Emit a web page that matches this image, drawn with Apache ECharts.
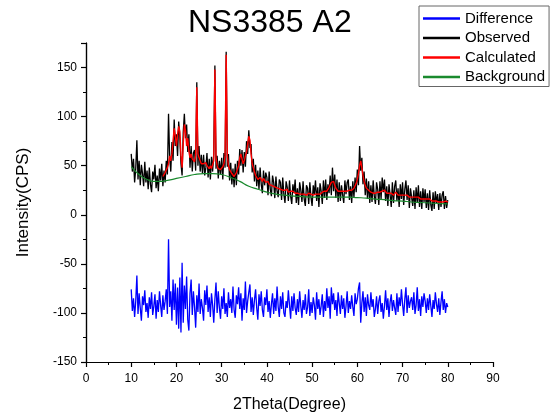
<!DOCTYPE html>
<html>
<head>
<meta charset="utf-8">
<title>NS3385 A2</title>
<script src="https://cdn.jsdelivr.net/npm/echarts@6/dist/echarts.min.js"></script>
<style>
	html, body { margin: 0; padding: 0; background: #fff; }
	#chart { width: 557px; height: 419px; }
</style>
</head>
<body>
<div id="chart"></div>
<script>
// 扫描步长，2Theta 从 10 到 80
const step = 0.25;
const obsStart = 10;
const calcStart = 17;

// 观测值 (每行 4 个点: x.00 x.25 x.50 x.75)
const observed = [
	62, 44, 57, 33,   47, 76, 36, 55,   30, 51, 42, 29,   54, 33, 45, 26,
	48, 31, 23, 44,   36, 51, 27, 40,   24, 47, 35, 52,   29, 45, 33, 55,
	41, 103, 58, 44,  74, 55, 97, 70,   82, 60, 95, 78,   52, 40, 84, 103,
	78, 92, 64, 82,   48, 70, 44, 63,   66, 45, 135, 50,  70, 44, 61, 42,
	61, 40, 48, 63,   38, 57, 36, 59,   44, 62, 152, 47,  60, 37, 55, 41,
	58, 36, 63, 48,   166, 49, 62, 35,  53, 31, 47, 28,   52, 30, 55, 41,
	67, 50, 66, 43,   64, 49, 75, 62,   86, 68, 72, 43,   57, 34, 51, 29,
	45, 26, 48, 31,   22, 45, 30, 43,   38, 20, 44, 26,   19, 40, 33, 17,
	39, 24, 18, 36,   33, 15, 38, 21,   12, 34, 28, 14,   35, 19, 11, 31,
	22, 36, 12, 27,   10, 33, 25, 13,   34, 16, 9, 30,    27, 11, 33, 18,
	9, 30, 21, 35,    14, 28, 8, 32,    24, 11, 35, 17,   36, 15, 31, 22,
	40, 20, 48, 24,   41, 17, 36, 13,   33, 14, 30, 20,   12, 35, 21, 33,
	36, 15, 29, 12,   34, 18, 38, 23,   46, 30, 70, 45,   58, 31, 44, 20,
	37, 16, 34, 12,   30, 13, 35, 19,   11, 33, 26, 10,   34, 16, 38, 23,
	36, 14, 29, 9,    31, 20, 8, 33,    12, 29, 35, 14,   27, 8, 31, 16,
	33, 10, 26, 35,   15, 30, 7, 27,    29, 9, 25, 6,     28, 12, 30, 8,
	24, 6, 27, 13,    26, 7, 22, 5,     25, 10, 4, 23,    6, 24, 12, 21,
	5, 22, 8, 20,     24, 6, 19, 7,
	15
];

// 计算值，从 17 度开始
const calculated = [
	39, 41, 43, 45,   48, 52, 60, 55,   62, 75, 88, 80,   70, 82, 90, 85,
	60, 48, 72, 92,   86, 70, 78, 65,   58, 62, 57, 55,   54, 60, 130, 62,
	58, 55, 52, 54,   52, 50, 53, 50,   48, 47, 50, 47,   48, 55, 148, 58,
	50, 47, 48, 46,   47, 49, 52, 60,   163, 60, 50, 46,  44, 42, 40, 39,
	41, 43, 45, 50,   58, 62, 57, 52,   55, 60, 64, 72,   80, 76, 62, 52,
	48, 44, 40, 38,   36, 35, 38, 36,   34, 37, 35, 33,   32, 34, 31, 33,
	30, 32, 29, 31,   28, 30, 27, 29,   26, 28, 25, 27,   25, 24, 26, 23,
	25, 24, 22, 24,   23, 22, 24, 22,   23, 21, 22, 21,   22, 21, 22, 20,
	21, 22, 20, 21,   21, 20, 22, 21,   20, 21, 22, 21,   22, 23, 22, 24,
	25, 24, 26, 28,   30, 33, 35, 34,   30, 27, 25, 24,   23, 24, 23, 24,
	25, 24, 23, 24,   24, 25, 24, 25,   26, 27, 29, 32,   36, 42, 50, 55,
	48, 40, 34, 30,   27, 26, 25, 24,   23, 24, 22, 23,   22, 24, 23, 22,
	23, 22, 24, 26,   25, 23, 22, 21,   22, 21, 22, 21,   20, 22, 23, 21,
	20, 21, 20, 19,   20, 19, 20, 21,   20, 19, 18, 19,   18, 19, 18, 17,
	18, 17, 18, 17,   16, 17, 16, 17,   16, 15, 16, 15,   16, 15, 14, 15,
	14, 15, 14, 14,   13, 14, 13, 14,   13, 13, 14, 13,
	13
];

// 差值曲线 (下移到 -90 附近)
const difference = [
	-76, -98, -85, -104,  -88, -62, -101, -80,  -95, -108, -83, -92,  -77, -99, -90, -105,
	-84, -96, -79, -102,  -93, -81, -106, -87,  -99, -78, -92, -104,  -82, -97, -88, -76,
	-101, -25, -94, -78,  -108, -66, -97, -70,  -112, -74, -116, -64, -120, -49, -110, -72,
	-96, -63, -107, -118, -80, -66, -102, -78,  -94, -115, -82, -99,  -70, -101, -86, -95,
	-108, -77, -92, -72,  -99, -84, -104, -80,  -92, -110, -86, -69,  -100, -78, -95, -106,
	-83, -96, -75, -101,  -90, -104, -79, -95,  -86, -100, -73, -97,  -105, -82, -91, -74,
	-96, -80, -108, -85,  -97, -68, -100, -88,  -79, -71, -99, -84,   -102, -87, -76, -95,
	-107, -81, -93, -78,  -97, -104, -84, -92,  -76, -99, -88, -105,  -91, -80, -101, -85,
	-98, -73, -94, -104,  -83, -96, -79, -100,  -104, -88, -95, -77,  -92, -106, -83, -98,
	-80, -95, -102, -86,  -99, -78, -93, -105,  -87, -97, -81, -101,  -94, -76, -103, -89,
	-100, -84, -92, -107, -79, -96, -86, -102,  -93, -81, -104, -88,  -98, -75, -95, -83,
	-106, -74, -91, -80,  -97, -87, -103, -79,  -90, -101, -82, -96,  -85, -105, -93, -78,
	-100, -88, -96, -82,  -94, -103, -80, -91,  -86, -75, -69, -110,  -90, -78, -99, -84,
	-103, -81, -92, -97,  -79, -94, -86, -104,  -96, -83, -101, -88,  -82, -99, -90, -106,
	-93, -77, -97, -85,   -104, -89, -81, -98,  -87, -95, -102, -80,  -99, -84, -93, -76,
	-91, -103, -86, -74,  -100, -82, -95, -88,  -84, -97, -79, -101,  -92, -74, -98, -86,
	-103, -83, -94, -80,  -88, -100, -85, -97,  -81, -93, -104, -87,  -96, -79, -91, -99,
	-85, -102, -89, -78,  -97, -86, -100, -90,
	-94
];

// 背景线
const bgX = [10, 11, 12, 13, 14, 15, 16, 18, 20, 22, 24, 26, 28, 30, 32, 34, 36, 38, 40,
	42, 44, 46, 48, 50, 52, 54, 56, 58, 60, 62, 64, 66, 68, 70, 72, 74, 76, 78, 80];
const bgY = [49, 44, 40, 37, 35, 34, 34, 35, 37, 39, 41, 42, 42, 41, 38, 34, 29, 26, 23,
	21, 20, 19, 18.5, 18, 18, 18, 18, 18, 17.5, 17, 16, 15.5, 14.5, 14, 13, 12.5, 12, 11.5, 11];

const seriesNames = ['Difference', 'Observed', 'Calculated', 'Background'];
const seriesColors = ['#0000ff', '#000000', '#ff0000', '#1a8a2e'];
const xTicks = [0, 90, 5, 10];
const yTicks = [-150, 175, 25, 50];

// 等步长扫描 -> [x, y]
function toPairs(start, values) {
	const out = [];
	for (let i = 0; i < values.length; i++) {
		out.push([+(start + i * step).toFixed(2), values[i]]);
	}
	return out;
}

const chart = echarts.init(document.getElementById('chart'), null, { renderer: 'canvas' });
const font = 'Liberation Sans, Arial, sans-serif';
const axisLine = { show: true, onZero: false, lineStyle: { color: '#000', width: 1.2 } };

const option = {
	animation: false,
	backgroundColor: '#fff',
	title: {
		text: 'NS3385 A2',
		left: 183,
		top: 2,
		textStyle: { fontFamily: font, fontSize: 32, fontWeight: 'normal', color: '#000' }
	},
	legend: {
		orient: 'vertical',
		left: 419,
		top: 6,
		padding: [5, 4, 2, 4],
		itemGap: 4.5,
		itemWidth: 37,
		itemHeight: 2.5,
		icon: 'rect',
		borderColor: '#666',
		borderWidth: 1,
		data: seriesNames,
		textStyle: { fontFamily: font, fontSize: 15, lineHeight: 15, color: '#000' }
	},
	grid: { left: 86, right: 64, top: 43, bottom: 57 },
	xAxis: [{
		// 次刻度
		type: 'value', min: xTicks[0], max: xTicks[1], interval: xTicks[2],
		axisLine: axisLine,
		axisTick: { length: 3, lineStyle: { color: '#000' } },
		axisLabel: { show: false },
		splitLine: { show: false }
	}, {
		type: 'value', min: xTicks[0], max: xTicks[1], interval: xTicks[3],
		position: 'bottom',
		name: '2Theta(Degree)',
		nameLocation: 'middle',
		nameGap: 35,
		nameTextStyle: { fontFamily: font, fontSize: 16, color: '#000' },
		axisLine: axisLine,
		axisTick: { length: 5, lineStyle: { color: '#000', width: 1.2 } },
		axisLabel: { margin: 11, fontFamily: font, fontSize: 12, color: '#000' },
		splitLine: { show: false }
	}],
	yAxis: [{
		type: 'value', min: yTicks[0], max: yTicks[1], interval: yTicks[2],
		axisLine: axisLine,
		axisTick: { length: 3, lineStyle: { color: '#000' } },
		axisLabel: { show: false },
		splitLine: { show: false }
	}, {
		type: 'value', min: yTicks[0], max: yTicks[1], interval: yTicks[3],
		position: 'left',
		name: 'Intensity(CPS)',
		nameLocation: 'middle',
		nameGap: 54,
		nameTextStyle: { fontFamily: font, fontSize: 17, color: '#000' },
		axisLine: axisLine,
		axisTick: { length: 5, lineStyle: { color: '#000', width: 1.2 } },
		axisLabel: {
			margin: 9, fontFamily: font, fontSize: 12, color: '#000',
			formatter: function(v) { return v % 50 === 0 ? v : ''; }
		},
		splitLine: { show: false }
	}],
	series: [{
		name: seriesNames[0], type: 'line', xAxisIndex: 1, yAxisIndex: 1,
		showSymbol: false, color: seriesColors[0],
		lineStyle: { width: 1.3 },
		data: toPairs(obsStart, difference)
	}, {
		name: seriesNames[1], type: 'line', xAxisIndex: 1, yAxisIndex: 1,
		showSymbol: false, color: seriesColors[1],
		lineStyle: { width: 1.3 },
		data: toPairs(obsStart, observed)
	}, {
		name: seriesNames[2], type: 'line', xAxisIndex: 1, yAxisIndex: 1,
		showSymbol: false, color: seriesColors[2],
		lineStyle: { width: 1.4 },
		data: toPairs(calcStart, calculated)
	}, {
		name: seriesNames[3], type: 'line', xAxisIndex: 1, yAxisIndex: 1,
		showSymbol: false, smooth: true, color: seriesColors[3],
		lineStyle: { width: 1.2 },
		data: bgX.map(function(x, i) { return [x, bgY[i]]; })
	}]
};

chart.setOption(option);
</script>
</body>
</html>
